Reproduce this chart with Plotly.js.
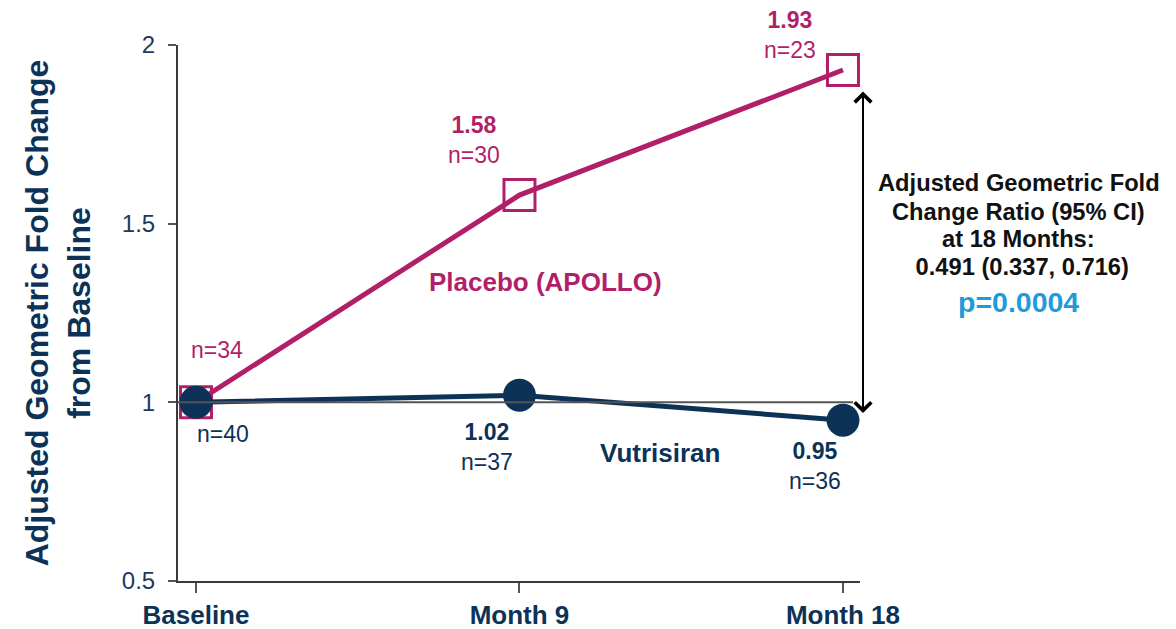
<!DOCTYPE html>
<html>
<head>
<meta charset="utf-8">
<script src="https://cdn.plot.ly/plotly-3.0.1.min.js"></script>
<style>html,body{margin:0;padding:0;background:#fff;}#chart{width:1176px;height:629px;}</style>
</head>
<body>
<div id="chart"></div>
<script>
// ---- data ----
const categories = ["Baseline", "Month 9", "Month 18"];
const placeboValues = [1.00, 1.58, 1.93];
const placeboN = [34, 30, 23];
const vutrisiranValues = [1.00, 1.02, 0.95];
const vutrisiranN = [40, 37, 36];
const yTickVals = [0.5, 1, 1.5, 2];
const yTickText = ["0.5", "1", "1.5", "2"];
const ratioText = ["Adjusted Geometric Fold", "Change Ratio (95% CI)", "at 18 Months:", " 0.491 (0.337, 0.716)"];
const pValueText = "p=0.0004";
const placeboName = "Placebo (APOLLO)";
const vutrisiranName = "Vutrisiran";

// ---- style ----
const MAGENTA = "#B21F69";
const NAVY = "#0C3257";
const FONT = "Liberation Sans, Arial, sans-serif";

const xIdx = categories.map((c, i) => i);

const traces = [
  {
    x: xIdx, y: placeboValues, mode: "lines+markers", name: placeboName,
    line: {color: MAGENTA, width: 5},
    marker: {symbol: "square-open", size: 31, color: MAGENTA, line: {width: 3, color: MAGENTA}},
    cliponaxis: false, hoverinfo: "skip"
  },
  {
    x: xIdx, y: vutrisiranValues, mode: "lines+markers", name: vutrisiranName,
    line: {color: NAVY, width: 5},
    marker: {symbol: "circle", size: 33, color: NAVY},
    cliponaxis: false, hoverinfo: "skip"
  }
];

// label offsets (pixels) relative to each point
const placeboShift = [[21, 52], [-45, 55], [-53, 35]];
const vutShift = [[27, -32], [-32, -52], [-28, -46]];

const annotations = [];
placeboValues.forEach((v, i) => {
  const txt = i === 0 ? "n=" + placeboN[i] : "<b>" + v.toFixed(2) + "</b><br>n=" + placeboN[i];
  annotations.push({x: xIdx[i], y: v, xref: "x", yref: "y", text: txt, showarrow: false,
    xanchor: "center", yanchor: "middle",
    xshift: placeboShift[i][0], yshift: placeboShift[i][1],
    font: {family: FONT, size: 23, color: MAGENTA}, align: "center"});
});
vutrisiranValues.forEach((v, i) => {
  const txt = i === 0 ? "n=" + vutrisiranN[i] : "<b>" + v.toFixed(2) + "</b><br>n=" + vutrisiranN[i];
  annotations.push({x: xIdx[i], y: v, xref: "x", yref: "y", text: txt, showarrow: false,
    xanchor: "center", yanchor: "middle",
    xshift: vutShift[i][0], yshift: vutShift[i][1],
    font: {family: FONT, size: 23, color: NAVY}, align: "center"});
});
// series labels
annotations.push({x: 1.079, y: 1.337, xref: "x", yref: "y", text: "<b>" + placeboName + "</b>", showarrow: false,
  xanchor: "center", font: {family: FONT, size: 26, color: MAGENTA}});
annotations.push({x: 1.434, y: 0.859, xref: "x", yref: "y", text: "<b>" + vutrisiranName + "</b>", showarrow: false,
  xanchor: "center", font: {family: FONT, size: 26, color: NAVY}});
// double arrow
annotations.push({x: 1.0044, y: 0.97, xref: "paper", yref: "y", ax: 0, ay: 1.874, axref: "pixel", ayref: "y",
  text: "", showarrow: true, arrowside: "end+start", arrowhead: 4, startarrowhead: 4,
  arrowsize: 1.6, startarrowsize: 1.6, arrowwidth: 2, arrowcolor: "#000", standoff: 0, startstandoff: 0});
// ratio text
const ratioY = [1.614, 1.533, 1.457, 1.379];
ratioText.forEach((t, i) => {
  annotations.push({x: 1.233, y: ratioY[i], xref: "paper", yref: "y", text: "<b>" + t + "</b>", showarrow: false,
    xanchor: "center", yanchor: "middle",
    font: {family: FONT, size: 23.7, color: "#111111"}});
});
annotations.push({x: 1.233, y: 1.281, xref: "paper", yref: "y", text: "<b>" + pValueText + "</b>", showarrow: false,
  xanchor: "center", yanchor: "middle",
  font: {family: FONT, size: 28.5, color: "#1F9BD9"}});

const layout = {
  width: 1176, height: 629,
  margin: {l: 178, r: 316, t: 45, b: 48, pad: 0},
  paper_bgcolor: "#ffffff", plot_bgcolor: "#ffffff",
  showlegend: false,
  xaxis: {
    type: "linear", range: [-0.0556, 2.0526],
    tickvals: xIdx, ticktext: categories.map(c => "<b>" + c + "</b>"),
    showgrid: false, zeroline: false, showline: true, linecolor: "#3a3a3a", linewidth: 2,
    ticks: "outside", ticklen: 10, tickwidth: 2, tickcolor: "#555555",
    tickfont: {family: FONT, size: 26, color: NAVY}
  },
  yaxis: {
    range: [0.5, 2], tickvals: yTickVals, ticktext: yTickText,
    showgrid: false, zeroline: false, showline: true, linecolor: "#3a3a3a", linewidth: 2,
    ticks: "outside", ticklen: 8, tickwidth: 2, tickcolor: "#555555",
    ticklabelstandoff: 8,
    tickfont: {family: FONT, size: 24, color: "#1B3A5C"},
    title: {text: "<b>Adjusted Geometric Fold Change<br>from Baseline</b>", standoff: 22,
      font: {family: FONT, size: 32, color: NAVY}}
  },
  shapes: [
    {type: "line", xref: "x", yref: "y", x0: -0.0556, x1: 2.031, y0: 1, y1: 1,
      line: {color: "#555555", width: 2}, layer: "above"}
  ],
  annotations: annotations
};

Plotly.newPlot("chart", traces, layout, {staticPlot: true, displayModeBar: false});
</script>
</body>
</html>
